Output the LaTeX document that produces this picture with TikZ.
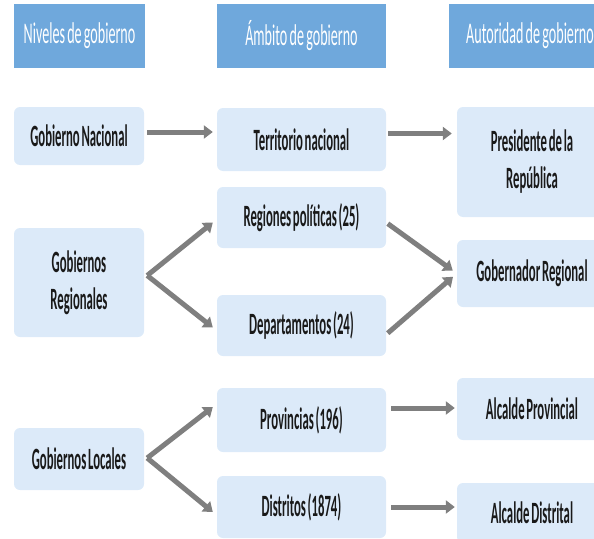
\documentclass[tikz,border=0pt]{standalone}
\usepackage{fontspec}
\setmainfont{Carlito}
\newfontfamily\hdrfont{Carlito}[FakeStretch=0.47, WordSpace=0.7]
\newfontfamily\boxfont{Carlito}[FakeStretch=0.41, WordSpace=0.6]
\usetikzlibrary{arrows.meta}
\definecolor{hdrblue}{HTML}{6FA8DC}
\definecolor{boxblue}{HTML}{DCEAF9}
\definecolor{arrgray}{HTML}{7F7F7F}
\tikzset{
  hdr/.style={fill=hdrblue, text=white, minimum height=64pt, inner sep=0pt, font=\hdrfont\fontsize{30}{32}\selectfont},
  lvl/.style={fill=boxblue, rounded corners=6pt, inner sep=0pt, align=center, text=black!90, font=\boxfont\bfseries\fontsize{31}{37}\selectfont},
  arr/.style={draw=arrgray, line width=5pt, -{Triangle[length=9pt,width=13pt]}},
}
\begin{document}
\begin{tikzpicture}[x=1pt,y=-1pt]
			\useasboundingbox (0,0) rectangle (594,538);
			\node[hdr, minimum width=131pt] (h1) at (79.5,36) {Niveles de gobierno};
			\node[hdr, minimum width=169pt] (h2) at (301.5,36) {Ámbito de gobierno};
			\node[hdr, minimum width=162pt] (h3) at (530,36) {Autoridad de gobierno};
			\node[lvl, minimum width=130pt, minimum height=58pt] (gn) at (79,136) {Gobierno Nacional};
			\node[lvl, minimum width=130pt, minimum height=109pt] (gr) at (79,282.5) {Gobiernos\\Regionales};
			\node[lvl, minimum width=130pt, minimum height=62pt] (gl) at (79,459) {Gobiernos Locales};
			\node[lvl, minimum width=169pt, minimum height=63pt] (tn) at (301.5,139.5) {Territorio nacional};
			\node[lvl, minimum width=169pt, minimum height=61pt] (rp) at (301.5,217.5) {Regiones políticas (25)};
			\node[lvl, minimum width=169pt, minimum height=61pt] (dep) at (301.5,325.5) {Departamentos (24)};
			\node[lvl, minimum width=169pt, minimum height=64pt] (prov) at (301.5,420) {Provincias (196)};
			\node[lvl, minimum width=169pt, minimum height=62pt] (dis) at (301.5,507) {Distritos (1874)};
			\node[lvl, minimum width=150pt, minimum height=110pt] (pres) at (532,162) {Presidente de la\\República};
			\node[lvl, minimum width=150pt, minimum height=67pt] (gob) at (532,273.5) {Gobernador Regional};
			\node[lvl, minimum width=150pt, minimum height=62pt] (ap) at (532,409) {Alcalde Provincial};
			\node[lvl, minimum width=150pt, minimum height=60pt] (ad) at (532,513) {Alcalde Distrital};
			\coordinate (grv) at ([shift={(3pt,7pt)}]gr.east);
			\coordinate (glv) at ([shift={(3pt,1pt)}]gl.east);
			\draw[arr, shorten <=3pt, shorten >=4pt] ([yshift=4pt]gn.east) -- ([yshift=4pt]gn.east -| tn.west);
			\draw[arr, shorten <=2pt, shorten >=5pt] ([yshift=6pt]tn.east) -- ([yshift=6pt]tn.east -| pres.west);
			\draw[arr] (grv) -- ([shift={(-4pt,-5pt)}]rp.west);
			\draw[arr] (grv) -- ([shift={(-4pt,-2pt)}]dep.west);
			\draw[arr, shorten <=2pt, shorten >=5pt] ([yshift=-5pt]rp.east) -- (gob.west);
			\draw[arr, shorten <=2pt, shorten >=5pt] ([yshift=-9pt]dep.east) -- (gob.west);
			\draw[arr] (glv) -- ([shift={(-4pt,13pt)}]prov.west);
			\draw[arr] (glv) -- ([shift={(-4pt,-5pt)}]dis.west);
			\draw[arr, shorten <=5pt, shorten >=2pt] ([yshift=12pt]prov.east) -- ([yshift=12pt]prov.east -| ap.west);
			\draw[arr, shorten <=5pt, shorten >=2pt] (dis.east) -- (dis.east -| ad.west);
		\end{tikzpicture}
\end{document}
